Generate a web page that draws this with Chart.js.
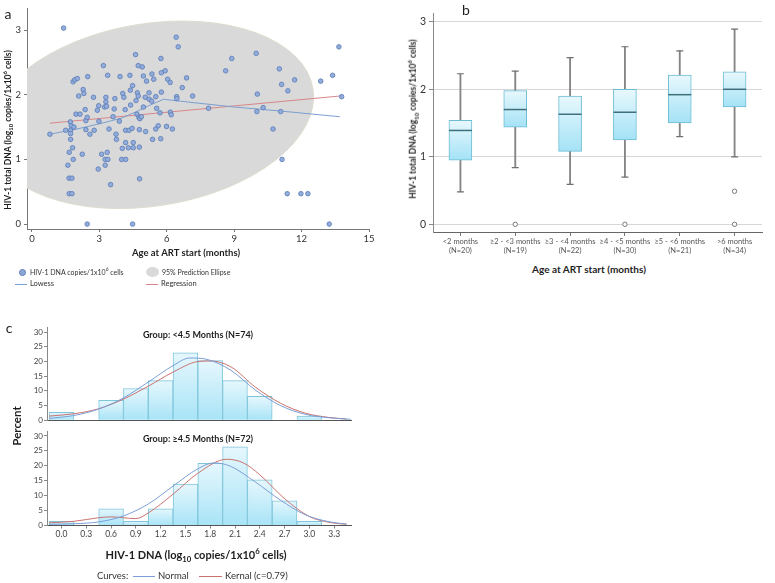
<!DOCTYPE html>
<html>
<head>
<meta charset="utf-8">
<script src="https://cdn.jsdelivr.net/npm/chart.js@4.4.1/dist/chart.umd.min.js"></script>
<style>
  body { margin: 0; width: 775px; height: 583px; background: #fff; position: relative; overflow: hidden; font-family: Lato, 'Open Sans', sans-serif; color: #1e1e1e; }
  canvas { position: absolute; }
  .t { position: absolute; white-space: nowrap; transform: translate(-50%, -50%); line-height: 1; }
  .rot { transform: translate(-50%, -50%) rotate(-90deg); }
  .b { font-weight: bold; }
  .l { position: absolute; white-space: nowrap; line-height: 1; transform: translateY(-50%); }
  .sw { position: absolute; height: 0; border-top: 1px solid; }
  sub, sup { font-size: 70%; line-height: 0; }
</style>
</head>
<body>
<canvas id="chartA" width="380" height="262" style="left:0;top:0"></canvas>
<canvas id="chartB" width="375" height="262" style="left:400px;top:0"></canvas>
<canvas id="chartC1" width="380" height="104" style="left:0;top:322px"></canvas>
<canvas id="chartC2" width="380" height="120" style="left:0;top:426px"></canvas>

<div class="t" style="left:8px;top:14px;font-size:14px">a</div>
<div class="t b rot" style="left:8px;top:130px;font-size:8.5px">HIV-1 total DNA (log<sub>10</sub> copies/1x10<sup>6</sup> cells)</div>
<div class="t b" style="left:186px;top:253px;font-size:9.5px">Age at ART start (months)</div>

<!-- legend of panel a -->
<div style="position:absolute;left:19px;top:269px;width:5px;height:5px;border-radius:50%;background:#8ea9d8;border:1px solid #5a7bb5"></div>
<div class="l" style="left:30px;top:272px;font-size:7px;color:#333">HIV-1 DNA copies/1x10<sup>6</sup> cells</div>
<div style="position:absolute;left:146px;top:267px;width:13px;height:10px;border-radius:50%;background:#d9d9d9"></div>
<div class="l" style="left:162px;top:272px;font-size:7px;color:#333">95% Prediction Ellipse</div>
<div class="sw" style="left:15px;top:284px;width:12px;border-color:#7a9fd0"></div>
<div class="l" style="left:30px;top:284px;font-size:7.5px;color:#333">Lowess</div>
<div class="sw" style="left:146px;top:284px;width:12px;border-color:#d9868a"></div>
<div class="l" style="left:161px;top:284px;font-size:7.5px;color:#333">Regression</div>

<div class="t" style="left:466px;top:10px;font-size:14px">b</div>
<div class="t b rot" style="left:413px;top:119px;font-size:8.5px">HIV-1 total DNA (log<sub>10</sub> copies/1x10<sup>6</sup> cells)</div>
<div class="t b" style="left:589px;top:269px;font-size:10px">Age at ART start (months)</div>

<div class="t" style="left:9px;top:328px;font-size:14px">c</div>
<div class="t b" style="left:198px;top:334px;font-size:9px">Group: &lt;4.5 Months (N=74)</div>
<div class="t b" style="left:198px;top:438px;font-size:9px">Group: ≥4.5 Months (N=72)</div>
<div class="t b rot" style="left:17px;top:426px;font-size:11.5px">Percent</div>
<div class="t b" style="left:196px;top:554px;font-size:11px">HIV-1 DNA (log<sub>10</sub> copies/1x10<sup>6</sup> cells)</div>

<div class="l" style="left:97px;top:576px;font-size:9.5px;color:#333">Curves:</div>
<div class="sw" style="left:133px;top:576px;width:22px;border-color:#7b9fd6"></div>
<div class="l" style="left:158px;top:576px;font-size:9.5px;color:#333">Normal</div>
<div class="sw" style="left:199px;top:576px;width:23px;border-color:#c9736f"></div>
<div class="l" style="left:225px;top:576px;font-size:9.5px;color:#333">Kernal (c=0.79)</div>

<script>
// ---- panel a: scatter of HIV-1 DNA vs age at ART start ----
const ageAtArt = [1.41, 0.80, 1.50, 1.83, 1.90, 2.02, 2.08, 2.28, 2.31, 2.48, 1.96, 2.14, 2.37, 2.40, 2.46,
  1.71, 1.75, 1.87, 1.72, 2.40, 2.58, 2.77, 1.72, 1.72, 1.81, 1.66, 1.84, 1.60, 2.24, 1.65, 1.78, 1.66, 1.78,
  2.46, 2.74, 2.91, 2.97, 2.98, 3.18, 3.10, 2.95, 3.23, 3.29, 3.32, 3.29, 3.37, 3.43, 3.26, 3.26, 3.38, 3.35,
  3.50, 3.61, 3.66, 3.69, 3.74, 3.76, 3.92, 3.89, 4.04, 4.09, 4.02, 3.99, 4.17, 4.15, 4.17, 4.17, 4.29, 4.32,
  4.36, 4.39, 4.38, 4.48, 4.46, 4.51, 4.51, 4.48, 4.61, 4.63, 4.67, 4.69, 4.73, 4.73, 4.76, 4.78, 4.78, 4.79,
  4.80, 4.87, 4.91, 4.96, 4.96, 5.04, 5.10, 5.06, 5.21, 5.22, 5.33, 5.34, 5.37, 5.42, 5.51, 5.51, 5.55, 5.62,
  5.70, 5.73, 5.74, 5.76, 5.76, 5.93, 5.99, 6.04, 6.15, 6.16, 6.20, 6.25, 6.42, 6.44, 6.45, 6.51, 6.69, 6.88,
  7.15, 7.86, 8.62, 8.89, 9.98, 10.03, 10.29, 10.01, 11.01, 11.11, 11.69, 11.39, 11.07, 10.73, 11.13, 11.36,
  11.97, 12.28, 13.23, 13.66, 13.38, 12.85, 13.78];
const dnaLevel = [3.03, 1.39, 1.45, 2.20, 2.23, 2.25, 1.98, 2.08, 2.02, 2.28, 1.70, 1.70, 1.77, 1.60, 1.65,
  1.58, 1.52, 1.50, 1.45, 1.46, 1.39, 1.45, 1.40, 1.31, 1.18, 1.11, 1.00, 0.91, 1.08, 0.71, 0.71, 0.47, 0.47,
  0.00, 1.96, 1.76, 1.83, 1.59, 2.45, 1.08, 0.85, 1.81, 1.89, 1.82, 1.96, 2.30, 1.47, 0.91, 1.00, 1.00, 1.11,
  0.61, 1.66, 1.78, 1.94, 1.39, 1.31, 2.28, 1.59, 2.02, 1.96, 1.17, 1.00, 1.00, 1.77, 1.45, 1.26, 1.18, 1.45,
  2.30, 1.84, 2.07, 2.14, 1.48, 1.18, 1.26, 0.00, 2.62, 1.91, 1.70, 2.03, 1.98, 2.45, 1.65, 1.46, 1.19, 0.70,
  1.63, 1.66, 2.43, 2.29, 1.81, 1.96, 2.21, 1.43, 2.03, 1.93, 1.90, 2.32, 1.31, 2.24, 1.97, 1.47, 1.79, 1.52,
  1.72, 1.32, 2.56, 2.34, 2.04, 2.37, 1.51, 2.24, 2.19, 1.73, 1.69, 1.47, 2.89, 1.97, 1.94, 2.74, 2.11, 2.26,
  1.98, 1.79, 2.37, 2.56, 2.64, 2.01, 1.80, 1.74, 2.40, 2.16, 2.23, 2.06, 1.74, 1.47, 1.00, 0.47,
  0.47, 0.47, 0.00, 2.74, 2.30, 2.21, 1.97];
const lowessAge = [0.8, 2.0, 3.0, 4.0, 4.6, 5.2, 5.85, 6.6, 9.0, 11.0, 13.7];
const lowessDna = [1.39, 1.47, 1.55, 1.64, 1.73, 1.83, 1.93, 1.90, 1.81, 1.75, 1.66];
const regressionAge = [0.8, 13.7];
const regressionDna = [1.56, 1.98];
const ticksAgeX = [0, 3, 6, 9, 12, 15];
const ticksDnaY = [0, 1, 2, 3];
// 95% prediction ellipse: centre and semi-axes in data units, tilt in degrees on screen
const ellipse = { cx: 5.3, cy: 1.69, rx: 7.3, ry: 1.41, rot: -9.2 };

// ---- panel b: box plots by age group ----
const groupLabels = [['<2 months', '(N=20)'], ['≥2 - <3 months', '(N=19)'], ['≥3 - <4 months', '(N=22)'],
  ['≥4 - <5 months', '(N=30)'], ['≥5 - <6 months', '(N=21)'], ['>6 months', '(N=34)']];
const boxMin = [0.48, 0.84, 0.59, 0.70, 1.30, 1.00];
const boxQ1 = [0.95, 1.44, 1.08, 1.25, 1.50, 1.74];
const boxMedian = [1.39, 1.70, 1.63, 1.66, 1.92, 2.00];
const boxQ3 = [1.54, 1.98, 1.90, 2.00, 2.21, 2.26];
const boxMax = [2.23, 2.27, 2.47, 2.63, 2.57, 2.89];
const outlierLow = [null, 0, null, 0, null, 0];
const outlierHigh = [null, null, null, null, null, 0.49];

// ---- panel c: histograms with normal and kernel curves ----
const binCenters = [0.0, 0.3, 0.6, 0.9, 1.2, 1.5, 1.8, 2.1, 2.4, 2.7, 3.0];
const pctUnder45 = [2.7, 0, 6.8, 10.8, 13.5, 23.0, 20.3, 13.5, 8.1, 0, 1.4];
const pctOver45 = [1.4, 0, 5.6, 1.4, 5.6, 13.9, 20.8, 26.4, 15.3, 8.3, 1.4];
const normUnderX = [-0.15, 0.15, 0.45, 0.75, 1.05, 1.35, 1.55, 1.75, 2.05, 2.35, 2.65, 2.95, 3.25, 3.5];
const normUnderY = [0.6, 1.6, 3.8, 7.6, 13.0, 18.6, 21.2, 20.8, 17.0, 10.2, 5.0, 2.0, 0.8, 0.3];
const kernUnderX = [-0.15, 0.15, 0.45, 0.75, 1.05, 1.35, 1.65, 1.8, 2.05, 2.35, 2.65, 2.95, 3.25, 3.45];
const kernUnderY = [1.4, 2.2, 3.9, 7.2, 11.6, 16.4, 20.0, 20.2, 18.2, 11.2, 5.8, 2.4, 0.9, 0.4];
const normOverX = [-0.15, 0.15, 0.45, 0.75, 1.05, 1.35, 1.65, 1.85, 2.05, 2.35, 2.65, 2.95, 3.25, 3.45];
const normOverY = [0.4, 0.6, 1.2, 3.2, 7.2, 13.2, 19.0, 21.0, 19.8, 14.5, 8.5, 3.6, 1.2, 0.5];
const kernOverX = [-0.15, 0.15, 0.45, 0.6, 0.9, 1.05, 1.35, 1.65, 2.0, 2.2, 2.4, 2.7, 3.0, 3.25, 3.45];
const kernOverY = [0.9, 1.4, 2.6, 2.9, 2.3, 4.2, 10.5, 17.5, 22.2, 21.0, 17.0, 9.0, 3.0, 1.0, 0.4];
const ticksPct = [0, 5, 10, 15, 20, 25, 30];
const ticksLog = [0.0, 0.3, 0.6, 0.9, 1.2, 1.5, 1.8, 2.1, 2.4, 2.7, 3.0, 3.3];

const FONT = 'Lato';
const pts = (xs, ys) => xs.map((x, i) => ({ x: x, y: ys[i] }));
const fixedTicks = list => scale => { scale.ticks = list.map(v => ({ value: v })); };

// vertical gradient from the top of a bar to its bottom
function barGradient(top, bottom) {
  return function(c) {
    if (c.type !== 'data' || !c.chart.chartArea) return bottom;
    const y = c.chart.scales.y;
    const r = c.raw;
    const hi = Array.isArray(r) ? r[1] : r.y;
    const lo = Array.isArray(r) ? r[0] : 0;
    const g = c.chart.ctx.createLinearGradient(0, y.getPixelForValue(hi), 0, y.getPixelForValue(lo));
    g.addColorStop(0, top);
    g.addColorStop(1, bottom);
    return g;
  };
}

const ellipsePlugin = {
  id: 'ellipse',
  beforeDatasetsDraw(chart) {
    const { ctx, chartArea: a, scales: { x, y } } = chart;
    const cx = x.getPixelForValue(ellipse.cx);
    const cy = y.getPixelForValue(ellipse.cy);
    const rx = Math.abs(x.getPixelForValue(ellipse.cx + ellipse.rx) - cx);
    const ry = Math.abs(y.getPixelForValue(ellipse.cy + ellipse.ry) - cy);
    ctx.save();
    ctx.beginPath();
    ctx.rect(a.left, a.top, a.right - a.left, a.bottom - a.top);
    ctx.clip();
    ctx.beginPath();
    ctx.ellipse(cx, cy, rx, ry, ellipse.rot * Math.PI / 180, 0, Math.PI * 2);
    ctx.fillStyle = '#d9d9d9';
    ctx.fill();
    ctx.strokeStyle = '#e0dccd';
    ctx.lineWidth = 1;
    ctx.stroke();
    ctx.restore();
  }
};

const baseOpts = {
  responsive: false,
  animation: false,
  events: [],
  plugins: { legend: { display: false }, tooltip: { enabled: false } }
};

// panel a
new Chart(document.getElementById('chartA'), {
  type: 'scatter',
  data: {
    datasets: [
      {
        data: pts(ageAtArt, dnaLevel),
        pointRadius: 2.3,
        pointBackgroundColor: '#92acdb',
        pointBorderColor: '#5a7bb5',
        pointBorderWidth: 0.8,
        order: 0
      },
      {
        data: pts(lowessAge, lowessDna),
        showLine: true,
        pointRadius: 0,
        borderColor: '#7a9fd0',
        borderWidth: 1,
        order: 1
      },
      {
        data: pts(regressionAge, regressionDna),
        showLine: true,
        pointRadius: 0,
        borderColor: '#d9868a',
        borderWidth: 1,
        order: 1
      }
    ]
  },
  options: {
    ...baseOpts,
    layout: { padding: { top: 4, right: 11, left: 0, bottom: 0 } },
    scales: {
      x: {
        type: 'linear', min: -0.22, max: 15,
        afterBuildTicks: fixedTicks(ticksAgeX),
        afterFit: s => { s.height = 33; },
        grid: { drawOnChartArea: false, tickLength: 3, color: '#777' },
        border: { color: '#777' },
        ticks: { font: { family: FONT, size: 9.5 }, color: '#333', padding: 1, maxRotation: 0 }
      },
      y: {
        type: 'linear', min: -0.076, max: 3.33,
        afterBuildTicks: fixedTicks(ticksDnaY),
        afterFit: s => { s.width = 27; },
        grid: { drawOnChartArea: false, tickLength: 3, color: '#777' },
        border: { color: '#777' },
        ticks: { font: { family: FONT, size: 9.5 }, color: '#333', padding: 3 }
      }
    }
  },
  plugins: [ellipsePlugin]
});

// panel b
new Chart(document.getElementById('chartB'), {
  type: 'bar',
  data: {
    labels: groupLabels,
    datasets: [
      {
        type: 'line', data: boxMedian, showLine: false, pointStyle: 'line',
        pointRadius: 11.5, pointBorderColor: '#3f6e7c', pointBorderWidth: 1.5, order: 0
      },
      {
        type: 'line', data: boxMax, showLine: false, pointStyle: 'line',
        pointRadius: 3.5, pointBorderColor: '#707070', pointBorderWidth: 1.2, order: 1
      },
      {
        type: 'line', data: boxMin, showLine: false, pointStyle: 'line',
        pointRadius: 3.5, pointBorderColor: '#707070', pointBorderWidth: 1.2, order: 1
      },
      {
        type: 'line', data: outlierLow, showLine: false, pointStyle: 'circle',
        pointRadius: 2.2, pointBackgroundColor: '#fff', pointBorderColor: '#777', pointBorderWidth: 1, order: 1
      },
      {
        type: 'line', data: outlierHigh, showLine: false, pointStyle: 'circle',
        pointRadius: 2.2, pointBackgroundColor: '#fff', pointBorderColor: '#777', pointBorderWidth: 1, order: 1
      },
      {
        data: boxQ1.map((q, i) => [q, boxQ3[i]]),
        barThickness: 23, grouped: false, borderSkipped: false,
        backgroundColor: barGradient('#e8f8fd', '#a4e2f6'),
        borderColor: '#6cbcd4', borderWidth: 1, order: 2
      },
      {
        data: boxMin.map((m, i) => [m, boxMax[i]]),
        barThickness: 1.2, grouped: false, borderWidth: 0,
        backgroundColor: '#858585', order: 3
      }
    ]
  },
  options: {
    ...baseOpts,
    layout: { padding: { top: 4, right: 3, left: 0, bottom: 0 } },
    scales: {
      x: {
        offset: true,
        afterFit: s => { s.height = 30; },
        grid: { offset: false, drawOnChartArea: false, tickLength: 4, color: '#777' },
        border: { color: '#666' },
        ticks: { font: { family: FONT, size: 7.5 }, color: '#555', padding: 1, maxRotation: 0, autoSkip: false }
      },
      y: {
        min: -0.114, max: 3.13,
        afterBuildTicks: fixedTicks(ticksDnaY),
        afterFit: s => { s.width = 33; },
        grid: { color: '#d6d6d6', tickLength: 4, tickColor: '#888' },
        border: { color: '#888' },
        ticks: { font: { family: FONT, size: 10.5 }, color: '#333', padding: 3 }
      }
    }
  }
});

// panel c, one chart for each group
function histChart(id, pct, normX, normY, kernX, kernY, yMax, xHeight, padTop, showX) {
  new Chart(document.getElementById(id), {
    type: 'bar',
    data: {
      datasets: [
        {
          type: 'line', data: pts(normX, normY), borderColor: '#7b9fd6', borderWidth: 1,
          pointRadius: 0, tension: 0.4, cubicInterpolationMode: 'monotone', order: 0
        },
        {
          type: 'line', data: pts(kernX, kernY), borderColor: '#c9736f', borderWidth: 1,
          pointRadius: 0, tension: 0.4, cubicInterpolationMode: 'monotone', order: 0
        },
        {
          data: pts(binCenters, pct),
          barPercentage: 1, categoryPercentage: 1,
          backgroundColor: barGradient('#e6f7fd', '#a8e4f7'),
          borderColor: '#7fc6db', borderWidth: 1, borderSkipped: 'bottom', order: 1
        }
      ]
    },
    options: {
      ...baseOpts,
      layout: { padding: { top: padTop, right: 28.5, left: 0, bottom: 0 } },
      scales: {
        x: {
          type: 'linear', offset: false, min: -0.1755, max: 3.51,
          afterBuildTicks: fixedTicks(ticksLog),
          afterFit: s => { s.height = xHeight; },
          grid: { display: showX, drawOnChartArea: false, offset: false, tickLength: 3, color: '#888' },
          border: { color: '#555' },
          ticks: {
            display: showX, font: { family: FONT, size: 8.5 }, color: '#444', padding: 1, maxRotation: 0,
            callback: v => v.toFixed(1)
          }
        },
        y: {
          min: 0, max: yMax,
          afterBuildTicks: fixedTicks(ticksPct),
          afterFit: s => { s.width = 47; },
          grid: { drawOnChartArea: false, tickLength: 3, color: '#888' },
          border: { color: '#888' },
          ticks: { font: { family: FONT, size: 8 }, color: '#444', padding: 1 }
        }
      }
    }
  });
}

histChart('chartC1', pctUnder45, normUnderX, normUnderY, kernUnderX, kernUnderY, 31.5, 2, 5, false);
histChart('chartC2', pctOver45, normOverX, normOverY, kernOverX, kernOverY, 31.4, 20.5, 2, true);
</script>
</body>
</html>
